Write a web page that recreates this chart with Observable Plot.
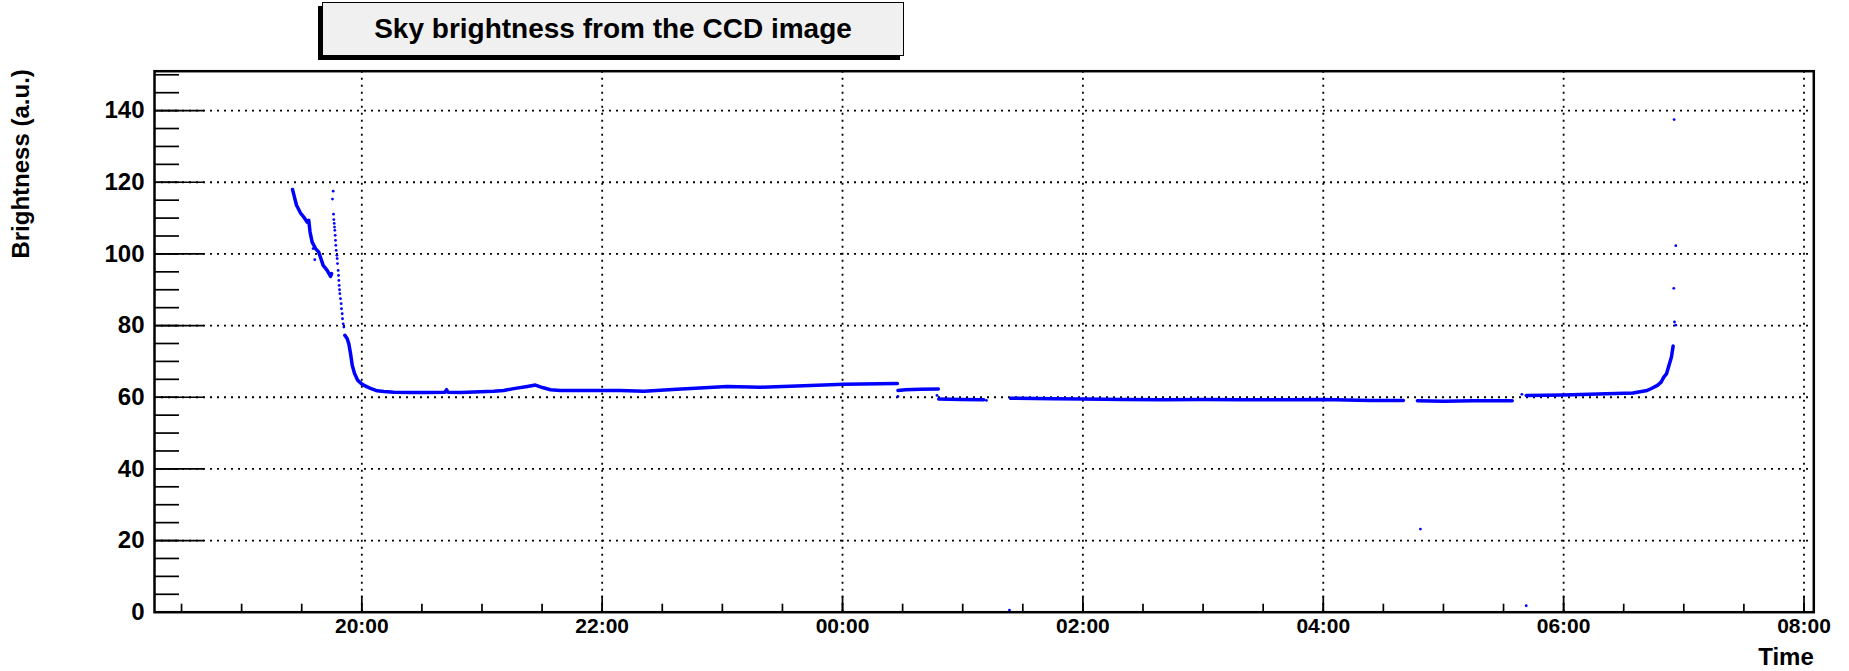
<!DOCTYPE html>
<html><head><meta charset="utf-8">
<script src="https://cdn.jsdelivr.net/npm/d3@7"></script>
<script src="https://cdn.jsdelivr.net/npm/@observablehq/plot@0.6"></script>
<style>
html,body{margin:0;padding:0;background:#fff;}
#wrap{position:relative;width:1849px;height:671px;font-family:"Liberation Sans",Arial,Helvetica,sans-serif;}
#title{position:absolute;left:322px;top:2px;width:580px;height:52px;border:1px solid #000;background:#f0f0f0;box-shadow:-4px 4px 0 #000;display:flex;align-items:center;justify-content:center;font-weight:bold;font-size:28px;color:#000;}
</style></head><body>
<div id="wrap"><div id="title">Sky brightness from the CCD image</div></div>
<script>
// ---- data ----
const xDomainTimes = ["18:16:30", "08:04:54"];
const xTickLabels = ["20:00", "22:00", "00:00", "02:00", "04:00", "06:00", "08:00"];
const yTickValues = [0, 20, 40, 60, 80, 100, 120, 140];
const yDomain = [0, 151];

// first (dense) trail at dusk
const trail1Times = ["19:25:24","19:27:24","19:29:24","19:31:00","19:32:42","19:33:30","19:34:10","19:35:12","19:36:54","19:38:30","19:39:24","19:40:42","19:42:42","19:44:24","19:44:54"];
const trail1Values = [118.0,113.6,111.4,110.3,108.9,109.4,106.1,103.3,101.5,100.5,99.0,96.8,95.4,93.7,94.5];

// sparse steep drop
const steepTimes = ["19:45:43","19:45:22","19:45:52","19:46:02","19:46:13","19:46:22","19:46:32","19:46:43","19:46:52","19:47:02","19:47:13","19:47:32","19:47:42","19:47:52","19:48:12","19:48:22","19:48:32","19:48:42","19:48:52","19:49:02","19:49:22","19:49:42","19:49:52","19:50:12","19:50:22","19:50:42","19:51:02"];
const steepValues = [117.5,115.3,111.1,109.6,108.5,107.5,106.6,105.2,103.8,102.4,101.0,99.6,98.7,97.3,95.4,94.0,92.6,91.2,90.0,88.9,87.5,86.1,84.7,83.3,81.9,80.5,79.6];

// dense night segments
const nightTimes = ["19:51:32","19:52:43","19:53:31","19:54:22","19:55:13","19:56:22","19:58:00","20:00:12","20:02:40","20:04:20","20:07:40","20:11:00","20:16:00","20:25:00","20:32:30","20:41:30","20:42:20","20:43:00","20:49:20","21:05:50","21:10:50","21:15:50","21:22:40","21:26:40","21:30:10","21:34:10","21:39:10","21:55:50","22:09:00","22:20:50","22:37:20","23:02:20","23:19:00","23:44:00","00:00:40","00:27:20"];
const nightValues = [77.3,76.3,74.9,72.2,68.9,66.6,64.7,63.6,62.9,62.5,61.8,61.6,61.4,61.3,61.35,61.4,62.1,61.4,61.35,61.7,61.9,62.4,63.0,63.4,62.7,62.1,61.9,61.9,61.9,61.7,62.2,63.0,62.8,63.3,63.6,63.8];

const seg3Times = ["00:27:40","00:31:20","00:38:50","00:47:50"];
const seg3Values = [61.9,62.1,62.2,62.3];
const seg4Times = ["00:48:00","00:58:50","01:10:30"];
const seg4Values = [59.5,59.4,59.3];
const seg5Times = ["01:23:50","01:45:00","02:00:00","02:20:00","02:40:00","03:00:00","03:20:00","03:40:00","04:00:00","04:23:30","04:40:00"];
const seg5Values = [59.7,59.6,59.5,59.4,59.3,59.4,59.3,59.3,59.35,59.1,59.1];
const seg6Times = ["04:47:00","05:00:00","05:15:00","05:34:20"];
const seg6Values = [59.0,58.9,59.0,59.0];
const seg7Times = ["05:41:20","05:59:40","06:17:10","06:34:40","06:41:40","06:43:20","06:46:50","06:48:40","06:50:00","06:51:20","06:53:50","06:54:40"];
const seg7Values = [60.5,60.65,60.9,61.2,61.9,62.3,63.3,64.2,65.6,66.5,71.2,74.3];

// isolated points
const isolatedTimes = ["19:35:42","19:36:30","00:27:40","00:47:10","01:11:50","01:23:20","04:48:30","05:39:10","05:41:20","06:55:00","06:55:10","06:55:20","06:56:00","06:56:00"];
const isolatedValues = [101.5,98.4,60.2,60.5,59.1,0.6,23.2,60.8,1.8,90.4,137.5,81.0,102.3,80.1];

// ---- build ----
const parseT = s => { const [h, m, sec] = s.split(":").map(Number); return new Date(Date.UTC(2010, 0, h < 12 ? 2 : 1, h, m, sec || 0)); };
const toRows = (times, values, seg) => times.map((t, i) => ({t: parseT(t), v: values[i], seg}));
const dense = [
  ...toRows(trail1Times, trail1Values, 1),
  ...toRows(nightTimes, nightValues, 2),
  ...toRows(seg3Times, seg3Values, 3),
  ...toRows(seg4Times, seg4Values, 4),
  ...toRows(seg5Times, seg5Values, 5),
  ...toRows(seg6Times, seg6Values, 6),
  ...toRows(seg7Times, seg7Values, 7)
];
const sparse = [...toRows(steepTimes, steepValues, 0), ...toRows(isolatedTimes, isolatedValues, 0)];

const xDomain = xDomainTimes.map(parseT);
const xMajor = xTickLabels.map(parseT);
const xMinor = d3.utcMinute.every(30).range(xDomain[0], xDomain[1]);
const yMinor = d3.range(0, yDomain[1], 5);

const W = 1849, H = 671, ML = 154, MR = 35.7, MT = 70.7, MB = 59.3;
const PW = W - ML - MR, PH = H - MT - MB;
const blue = "#0000ff";

const chart = Plot.plot({
  width: W, height: H,
  marginLeft: ML, marginRight: MR, marginTop: MT, marginBottom: MB,
  style: {fontFamily: '"Liberation Sans", Arial, Helvetica, sans-serif', fontWeight: "bold", background: "transparent", color: "#000", overflow: "visible"},
  x: {type: "utc", domain: xDomain},
  y: {domain: yDomain},
  marks: [
    Plot.ruleY(yTickValues.filter(d => d > 0), {stroke: "#000", strokeWidth: 1.8, strokeDasharray: "2,5"}),
    Plot.ruleX(xMajor, {stroke: "#000", strokeWidth: 1.8, strokeDasharray: "2,5"}),
    Plot.ruleY(yMinor, {stroke: "#000", strokeWidth: 1.7, insetRight: PW - 25}),
    Plot.ruleY(yTickValues, {stroke: "#000", strokeWidth: 1.7, insetRight: PW - 50}),
    Plot.ruleX(xMinor, {stroke: "#000", strokeWidth: 1.7, insetTop: PH - 8}),
    Plot.ruleX(xMajor, {stroke: "#000", strokeWidth: 1.7, insetTop: PH - 16}),
    Plot.axisY({ticks: yTickValues, tickSize: 0, tickPadding: 10, fontSize: 24, label: null}),
    Plot.axisX({ticks: xMajor, tickSize: 0, tickPadding: 6, fontSize: 21, tickFormat: d3.utcFormat("%H:%M"), label: null}),
    Plot.line(dense, {x: "t", y: "v", z: "seg", stroke: blue, strokeWidth: 3.5, strokeLinecap: "round", strokeLinejoin: "round"}),
    Plot.dot(sparse, {x: "t", y: "v", r: 1.4, fill: blue, stroke: null}),
    Plot.frame({stroke: "#000", strokeWidth: 2.5}),
    Plot.text(["Brightness (a.u.)"], {frameAnchor: "top-left", rotate: -90, textAnchor: "end", lineAnchor: "middle", dx: 20.5 - ML, dy: -2, fontSize: 24, fill: "#000"}),
    Plot.text(["Time"], {frameAnchor: "bottom-right", textAnchor: "end", lineAnchor: "middle", dy: 44.8, fontSize: 24, fill: "#000"})
  ]
});
document.getElementById("wrap").prepend(chart);
chart.style.position = "absolute";
chart.style.left = "0";
chart.style.top = "0";
</script>
</body></html>
